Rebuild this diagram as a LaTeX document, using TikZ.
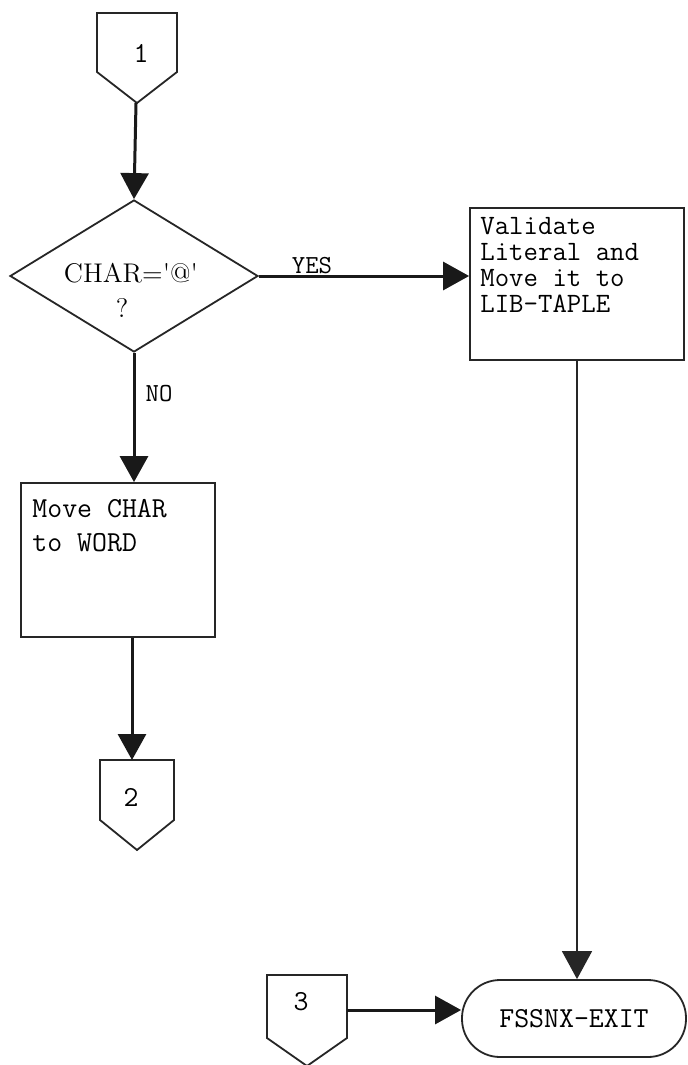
\documentclass[tikz,border=0pt]{standalone}
\usetikzlibrary{shapes.geometric,arrows.meta}
\begin{document}
\begin{tikzpicture}[x=0.5pt,y=-0.5pt,
  shapeline/.style={draw=black!85,line width=0.9pt},
  flow/.style={draw=black!90,line width=1.5pt,-{Triangle[length=13pt,width=14pt]}},
  thinflow/.style={draw=black!85,line width=0.7pt,-{Triangle[length=14pt,width=15pt]}},
  boxtext/.style={font=\ttfamily\fontsize{14}{13}\selectfont,align=left,inner sep=0pt,anchor=north west},
  lbl/.style={font=\ttfamily\fontsize{13}{13}\selectfont,inner sep=0pt},
  conlabel/.style={font=\ttfamily\fontsize{14.5}{14.5}\selectfont,inner sep=0pt}]
\useasboundingbox[fill=white] (0,0) rectangle (687,1065);

% off-page connector 1
\draw[shapeline] (97,13) -- (177,13) -- (177,72) -- (137,103) -- (97,72) -- cycle;
\node[conlabel] (c1) at (141,53) {1};
\coordinate (c1tip) at (136,103);

% decision
\node[diamond,shapeline,minimum width=124pt,minimum height=76pt,inner sep=0pt] (d) at (134,276) {};
\node[font=\rmfamily\fontsize{13.5}{13.5}\selectfont,inner sep=0pt] (dq1) at (131,273) {CHAR=\textquotesingle @\textquotesingle};
\node[font=\rmfamily\fontsize{13.5}{13.5}\selectfont,inner sep=0pt] (dq2) at (122,308) {?};

% right box
\node[rectangle,shapeline,minimum width=107pt,minimum height=76pt,inner sep=0pt] (rbox) at (577,284) {};
\node[boxtext] (rtext) at (480,217) {Validate\\Literal and\\Move it to\\LIB-TAPLE};

% left box
\node[rectangle,shapeline,minimum width=97pt,minimum height=77pt,inner sep=0pt] (mbox) at (118,560) {};
\node[boxtext,font=\ttfamily\fontsize{14.5}{17}\selectfont] (mtext) at (32,499) {Move CHAR\\to WORD};

% off-page connector 2
\draw[shapeline] (100,760) -- (174,760) -- (174,820) -- (137,850) -- (100,820) -- cycle;
\node[conlabel] (c2) at (131,797) {2};
\coordinate (c2in) at (132,760);

% off-page connector 3
\draw[shapeline] (267,975) -- (347,975) -- (347,1038) -- (307,1066) -- (267,1038) -- cycle;
\node[conlabel] (c3) at (301,1002) {3};
\coordinate (c3out) at (347,1010);

% exit terminal
\node[rectangle,rounded corners=19pt,shapeline,minimum width=112pt,minimum height=38.5pt,inner sep=0pt,
      font=\ttfamily\fontsize{14.5}{14.5}\selectfont] (exit) at (574,1018.5) {\raisebox{-5pt}{FSSNX-EXIT}};

% connectors
\draw[flow] (c1tip) -- (d.north);
\draw[flow] (d.east) -- (rbox.west |- d.east);
\node[lbl] (yes) at (312,266) {YES};
\draw[flow] (d.south) -- (mbox.north -| d.south);
\node[lbl] (no) at (159,394) {NO};
\draw[flow] (mbox.south -| c2in) -- (c2in);
\draw[thinflow] (rbox.south) -- (rbox.south |- exit.north);
\draw[flow] (c3out) -- (c3out -| exit.west);
\end{tikzpicture}
\end{document}
